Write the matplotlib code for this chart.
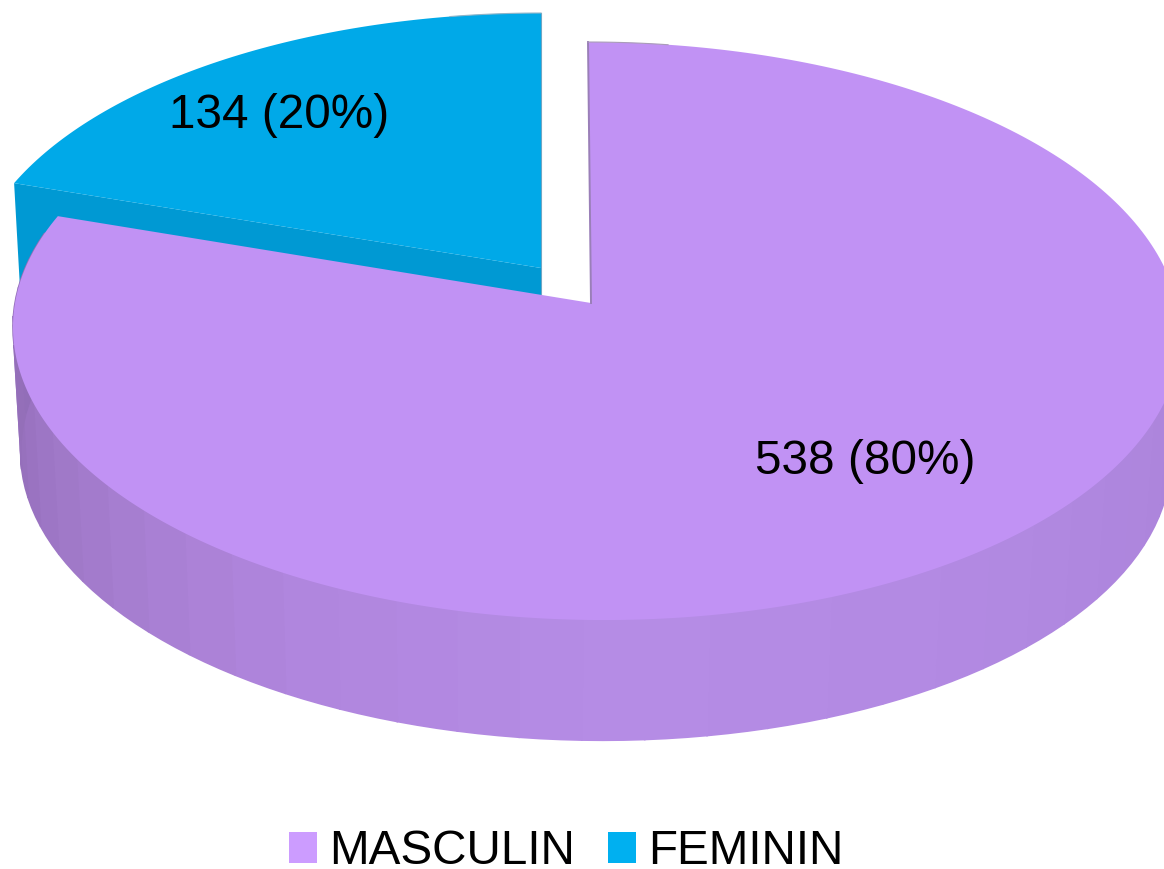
import numpy as np
import matplotlib
matplotlib.use("Agg")
import matplotlib.pyplot as plt
from matplotlib.patches import Polygon, Patch
from matplotlib.colors import to_rgb

categories = ["MASCULIN", "FEMININ"]
values = [538, 134]
percents = [80, 20]
legend_colors = ["#CC9CFF", "#00B0F0"]
top_colors = ["#C192F4", "#00A9E8"]
wall_color_blue = "#0099D3"
FONT = "Liberation Sans"
FS = 34.3

fig = plt.figure(figsize=(11.64, 8.69), dpi=100)
ax = fig.add_axes([0, 0, 1, 1])
ax.set_xlim(0, 1164)
ax.set_ylim(869, 0)
ax.axis("off")

# perspective projection of the disc
A, B, K, C = 581.0, 286.3, 0.097, 5.0

def project(theta, ax0, ay0, sx=1.0, sy=1.0, tilt=0.0):
    u, v = np.sin(theta), np.cos(theta)
    d = 1 + K * v
    return (ax0 + sx * (A * u / d + C * (1 - v) - tilt * v),
            ay0 - sy * B * v / d)

total = sum(values)
main_end = 2 * np.pi * values[0] / total  # clockwise from the top

# exploded slice centres, wall depth
blue_apex = (541.0, 268.0)
purple_apex = (591.0, 303.0)
TILT = 3.0
DX, DY, S = -1.0, 125.0, 0.985

# blue slice: radial wall, then top
th_b = np.linspace(main_end, 2 * np.pi, 80)
bx, by = project(th_b, *blue_apex, sx=0.99, sy=0.977)
rim = (bx[0], by[0])
ax.add_patch(Polygon([blue_apex, rim, (rim[0] + 7, rim[1] + 125),
                      (blue_apex[0], blue_apex[1] + 125)],
                     closed=True, fc=wall_color_blue, ec="none", zorder=1))
ax.add_patch(Polygon(np.r_[[blue_apex], np.c_[bx, by]], closed=True,
                     fc=top_colors[1], ec="none", zorder=2))
ax.plot([blue_apex[0], bx[-1]], [blue_apex[1] + 28, by[-1]], color="#6FA6C4", lw=0.8, zorder=2)
ax.plot(bx[-12:], by[-12:], color="#8FB4C8", lw=0.8, zorder=2)

# purple outer wall, faceted
anchor_deg = [60, 90, 120, 150, 180, 210, 235, 260, 290]
anchor_rgb = [to_rgb(c) for c in ("#AA82D8", "#AA82D8", "#AE86DE", "#B38AE3", "#B58CE5",
                                  "#B085DD", "#A47CCD", "#9670BC", "#8F6CB4")]
edges = np.deg2rad(np.arange(85, 288.1, 5.7))
for a0, a1 in zip(edges[:-1], edges[1:]):
    tt = np.linspace(a0, a1, 4)
    x0, y0 = project(tt, *purple_apex, tilt=TILT)
    x1, y1 = project(tt, purple_apex[0] + DX, purple_apex[1] + DY, sx=S, sy=S, tilt=TILT)
    mid = np.rad2deg((a0 + a1) / 2)
    col = [np.interp(mid, anchor_deg, [c[i] for c in anchor_rgb]) for i in range(3)]
    ax.add_patch(Polygon(np.r_[np.c_[x0, y0], np.c_[x1, y1][::-1]], closed=True,
                         fc=col, ec=col, lw=1.2, zorder=3))

# purple top face
th_p = np.linspace(0, main_end, 300)
px, py = project(th_p, *purple_apex, tilt=TILT)
ax.add_patch(Polygon(np.r_[[purple_apex], np.c_[px, py]], closed=True,
                     fc=top_colors[0], ec="none", zorder=4))
ax.plot([purple_apex[0], px[0]], [purple_apex[1], py[0]], color="#9A7FB8", lw=1.4, zorder=5)
ax.plot(px[:10], py[:10], color="#A99BB8", lw=0.8, zorder=5)

# labels
ax.text(279, 116, f"{values[1]} ({percents[1]}%)", ha="center", va="center",
        family=FONT, fontsize=FS, color="black", zorder=6)
ax.text(865, 461, f"{values[0]} ({percents[0]}%)", ha="center", va="center",
        family=FONT, fontsize=FS, color="black", zorder=6)

# legend
handles = [Patch(fc=c, ec="none", label=l) for c, l in zip(legend_colors, categories)]
ax.legend(handles=handles, ncol=2, loc="center", bbox_to_anchor=(566, 852),
          bbox_transform=ax.transData, frameon=False, borderpad=0, borderaxespad=0,
          handlelength=0.59, handleheight=0.61, handletextpad=0.25, columnspacing=0.7,
          prop={"family": FONT, "size": FS})

fig.savefig("out.png", dpi=100)
